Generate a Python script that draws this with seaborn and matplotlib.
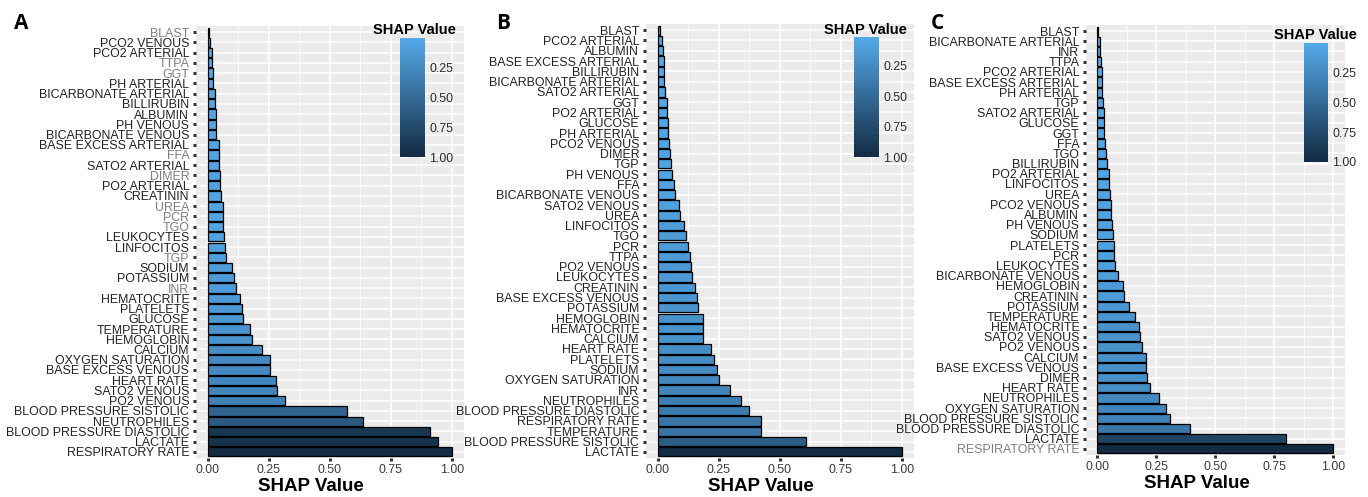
import matplotlib
matplotlib.use('Agg')
import matplotlib.pyplot as plt
from matplotlib.colors import LinearSegmentedColormap, Normalize
from matplotlib.cm import ScalarMappable
from matplotlib.ticker import MultipleLocator
import seaborn as sns
import pandas as pd

# panel A
features_a = ['BLAST', 'PCO2 VENOUS', 'PCO2 ARTERIAL', 'TTPA', 'GGT', 'PH ARTERIAL',
              'BICARBONATE ARTERIAL', 'BILLIRUBIN', 'ALBUMIN', 'PH VENOUS', 'BICARBONATE VENOUS',
              'BASE EXCESS ARTERIAL', 'FFA', 'SATO2 ARTERIAL', 'DIMER', 'PO2 ARTERIAL', 'CREATININ',
              'UREA', 'PCR', 'TGO', 'LEUKOCYTES', 'LINFOCITOS', 'TGP', 'SODIUM', 'POTASSIUM', 'INR',
              'HEMATOCRITE', 'PLATELETS', 'GLUCOSE', 'TEMPERATURE', 'HEMOGLOBIN', 'CALCIUM',
              'OXYGEN SATURATION', 'BASE EXCESS VENOUS', 'HEART RATE', 'SATO2 VENOUS', 'PO2 VENOUS',
              'BLOOD PRESSURE SISTOLIC', 'NEUTROPHILES', 'BLOOD PRESSURE DIASTOLIC', 'LACTATE',
              'RESPIRATORY RATE']
shap_a = [0.007, 0.010, 0.016, 0.018, 0.022, 0.023, 0.029, 0.031, 0.035, 0.035, 0.035,
          0.045, 0.045, 0.045, 0.049, 0.052, 0.053, 0.061, 0.061, 0.061, 0.068, 0.072, 0.075,
          0.101, 0.109, 0.116, 0.134, 0.139, 0.146, 0.172, 0.183, 0.221, 0.256, 0.256, 0.278,
          0.283, 0.317, 0.569, 0.635, 0.913, 0.944, 1.000]
grey_a = ['BLAST', 'TTPA', 'GGT', 'FFA', 'DIMER', 'UREA', 'PCR', 'TGO', 'TGP', 'INR']

# panel B
features_b = ['BLAST', 'PCO2 ARTERIAL', 'ALBUMIN', 'BASE EXCESS ARTERIAL', 'BILLIRUBIN',
              'BICARBONATE ARTERIAL', 'SATO2 ARTERIAL', 'GGT', 'PO2 ARTERIAL', 'GLUCOSE',
              'PH ARTERIAL', 'PCO2 VENOUS', 'DIMER', 'TGP', 'PH VENOUS', 'FFA', 'BICARBONATE VENOUS',
              'SATO2 VENOUS', 'UREA', 'LINFOCITOS', 'TGO', 'PCR', 'TTPA', 'PO2 VENOUS', 'LEUKOCYTES',
              'CREATININ', 'BASE EXCESS VENOUS', 'POTASSIUM', 'HEMOGLOBIN', 'HEMATOCRITE', 'CALCIUM',
              'HEART RATE', 'PLATELETS', 'SODIUM', 'OXYGEN SATURATION', 'INR', 'NEUTROPHILES',
              'BLOOD PRESSURE DIASTOLIC', 'RESPIRATORY RATE', 'TEMPERATURE',
              'BLOOD PRESSURE SISTOLIC', 'LACTATE']
shap_b = [0.011, 0.018, 0.020, 0.025, 0.026, 0.027, 0.029, 0.040, 0.040, 0.044, 0.044,
          0.048, 0.051, 0.056, 0.060, 0.068, 0.070, 0.086, 0.093, 0.109, 0.117, 0.126, 0.134,
          0.137, 0.139, 0.152, 0.160, 0.167, 0.184, 0.187, 0.187, 0.220, 0.229, 0.243, 0.253,
          0.295, 0.340, 0.373, 0.425, 0.425, 0.608, 1.000]
grey_b = []

# panel C
features_c = ['BLAST', 'BICARBONATE ARTERIAL', 'INR', 'TTPA', 'PCO2 ARTERIAL',
              'BASE EXCESS ARTERIAL', 'PH ARTERIAL', 'TGP', 'SATO2 ARTERIAL', 'GLUCOSE', 'GGT', 'FFA',
              'TGO', 'BILLIRUBIN', 'PO2 ARTERIAL', 'LINFOCITOS', 'UREA', 'PCO2 VENOUS', 'ALBUMIN',
              'PH VENOUS', 'SODIUM', 'PLATELETS', 'PCR', 'LEUKOCYTES', 'BICARBONATE VENOUS',
              'HEMOGLOBIN', 'CREATININ', 'POTASSIUM', 'TEMPERATURE', 'HEMATOCRITE', 'SATO2 VENOUS',
              'PO2 VENOUS', 'CALCIUM', 'BASE EXCESS VENOUS', 'DIMER', 'HEART RATE', 'NEUTROPHILES',
              'OXYGEN SATURATION', 'BLOOD PRESSURE SISTOLIC', 'BLOOD PRESSURE DIASTOLIC', 'LACTATE',
              'RESPIRATORY RATE']
shap_c = [0.003, 0.010, 0.013, 0.016, 0.018, 0.020, 0.020, 0.024, 0.027, 0.028, 0.030,
          0.031, 0.037, 0.042, 0.048, 0.049, 0.054, 0.056, 0.059, 0.062, 0.068, 0.069, 0.071,
          0.076, 0.089, 0.107, 0.113, 0.136, 0.160, 0.177, 0.182, 0.189, 0.205, 0.208, 0.209,
          0.225, 0.263, 0.291, 0.306, 0.394, 0.799, 1.000]
grey_c = ['RESPIRATORY RATE']

x_ticks = [0.0, 0.25, 0.5, 0.75, 1.0]
x_ticklabels = ['0.00', '0.25', '0.50', '0.75', '1.00']
cbar_ticks = [0.25, 0.5, 0.75, 1.0]
cbar_ticklabels = ['0.25', '0.50', '0.75', '1.00']

sns.set_theme(style='white')
plt.rcParams['font.family'] = ['Liberation Sans', 'DejaVu Sans']

cmap = LinearSegmentedColormap.from_list('shap', ['#54A9EA', '#132B43'])
W, H = 1368, 497
fig = plt.figure(figsize=(W / 100, H / 100), dpi=100)


def px(x, y, w=0, h=0):
    # pixel box (from top-left) -> figure fraction rect
    return [x / W, 1 - (y + h) / H, w / W, h / H]


def draw_panel(rect, cbar_rect, title_xy, letter, letter_xy, features, values, grey):
    ax = fig.add_axes(rect)
    df = pd.DataFrame({'feature': features, 'shap': values})
    norm = (min(values), max(values))
    sns.barplot(data=df, x='shap', y='feature', hue='shap', palette=cmap, hue_norm=norm,
                orient='h', width=0.9, saturation=1, edgecolor='black', linewidth=0.9,
                legend=False, ax=ax)
    ax.set_facecolor('#EBEBEB')
    for s in ax.spines.values():
        s.set_visible(False)
    ax.set_xlim(-0.05, 1.05)
    ax.set_ylim(len(features) - 0.4, -0.6)
    ax.set_xticks(x_ticks)
    ax.set_xticklabels(x_ticklabels)
    ax.xaxis.set_minor_locator(MultipleLocator(0.125))
    ax.set_axisbelow(True)
    ax.grid(which='major', color='white', linewidth=1.1)
    ax.grid(which='minor', axis='x', color='white', linewidth=0.55)
    ax.tick_params(which='major', length=2.5, width=2.2, color='#333333', pad=2,
                   labelsize=8.9, labelcolor='#222222', left=True, bottom=True)
    ax.tick_params(axis='x', labelcolor='#3C3C3C')
    ax.tick_params(which='minor', length=0)
    for lab in ax.get_yticklabels():
        if lab.get_text() in grey:
            lab.set_color('#7F7F7F')
    ax.set_ylabel('')
    ax.set_xlabel('SHAP Value', fontsize=13.5, fontweight='bold', color='black', va='top')
    ax.xaxis.set_label_coords(0.43, -0.046)

    cax = fig.add_axes(cbar_rect)
    cb = fig.colorbar(ScalarMappable(norm=Normalize(*norm), cmap=cmap), cax=cax)
    cax.invert_yaxis()
    cb.set_ticks(cbar_ticks)
    cb.set_ticklabels(cbar_ticklabels)
    cb.outline.set_visible(False)
    cax.tick_params(direction='in', left=True, right=True, labelleft=False, labelright=True,
                    color='white', length=5, width=0.8, labelsize=8.9,
                    labelcolor='#2B2B2B', pad=3)
    fig.text(title_xy[0] / W, 1 - title_xy[1] / H, 'SHAP Value', ha='center', va='center',
             fontsize=10.5, fontweight='bold', color='black')
    fig.text(letter_xy[0] / W, 1 - letter_xy[1] / H, letter, ha='left', va='baseline',
             fontsize=15, fontweight='bold', family='Open Sans', color='black')


draw_panel(px(195.5, 26, 268.4, 432), px(400, 38, 25, 119), (414, 30), 'A', (14, 29),
           features_a, shap_a, grey_a)
draw_panel(px(645.5, 24, 268.4, 434), px(854, 37, 25, 120), (865, 30), 'B', (496, 29),
           features_b, shap_b, grey_b)
draw_panel(px(1085.5, 25, 259.6, 430), px(1304, 43, 24, 119), (1315, 35), 'C', (931, 29),
           features_c, shap_c, grey_c)

fig.savefig('out.png', dpi=100)
plt.close(fig)
